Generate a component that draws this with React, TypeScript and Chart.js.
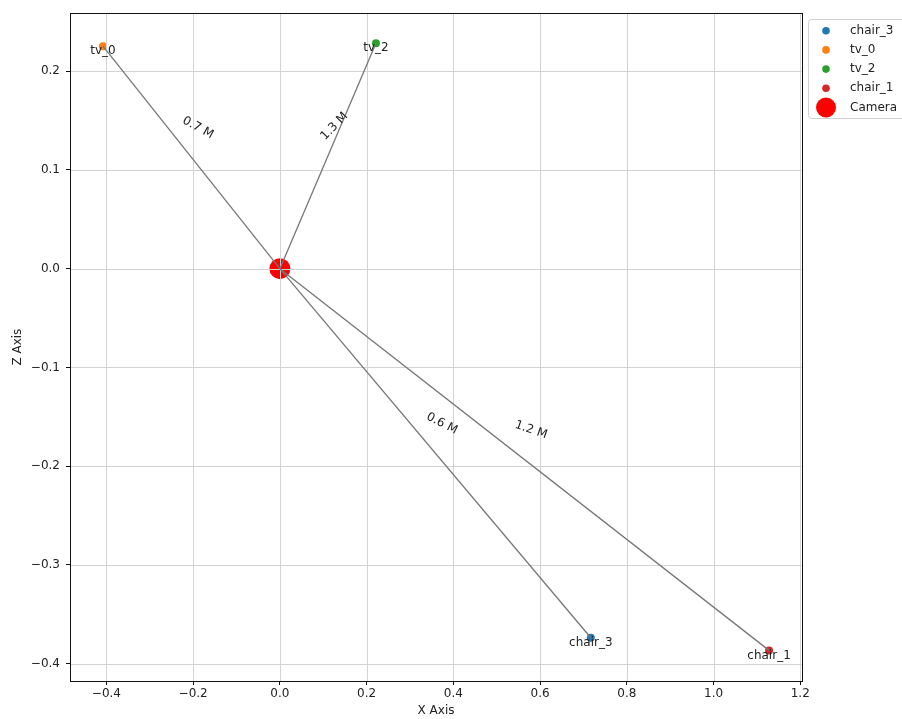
import React, { useEffect, useRef } from "react";
import { Chart, registerables } from "chart.js";

Chart.register(...registerables);

// ---- data ----
const objectNames = ["chair_3", "tv_0", "tv_2", "chair_1"];
const objectX = [0.717, -0.408, 0.2215, 1.128];
const objectZ = [-0.3737, 0.2253, 0.2283, -0.3865];
const distanceLabels = ["0.6 M", "0.7 M", "1.3 M", "1.2 M"];
const cameraLabel = "Camera";
const cameraX = 0;
const cameraZ = 0;
const xTicks = [-0.4, -0.2, 0.0, 0.2, 0.4, 0.6, 0.8, 1.0, 1.2];
const zTicks = [-0.4, -0.3, -0.2, -0.1, 0.0, 0.1, 0.2];
const xRange = [-0.484, 1.204];
const zRange = [-0.4175, 0.2587];
const xTitle = "X Axis";
const zTitle = "Z Axis";

// ---- styles ----
const seriesColors = ["#1f77b4", "#ff7f0e", "#2ca02c", "#d62728"];
const cameraColor = "#ff0000";
const FONT = "'DejaVu Sans', sans-serif";
const TEXT = "#222222";
const GRID = "#d3d3d3";

const fmt = (v: number) => {
  const s = Math.abs(v).toFixed(1);
  return v < -1e-9 ? "\u2212" + s : s;
};

const lineCount = objectNames.length;

const overlayPlugin = {
  id: "overlay",
  afterDatasetDraw(chart: any, args: any) {
    // index lineCount is the last scatter dataset drawn (before lines)
    if (args.index !== lineCount) return;
    const { ctx, chartArea: a, scales } = chart;
    ctx.save();
    ctx.strokeStyle = GRID;
    ctx.lineWidth = 1;
    ctx.beginPath();
    xTicks.forEach((v) => {
      const p = Math.round(scales.x.getPixelForValue(v)) + 0.5;
      ctx.moveTo(p, a.top);
      ctx.lineTo(p, a.bottom);
    });
    zTicks.forEach((v) => {
      const p = Math.round(scales.y.getPixelForValue(v)) + 0.5;
      ctx.moveTo(a.left, p);
      ctx.lineTo(a.right, p);
    });
    ctx.stroke();
    ctx.restore();
  },
  afterDatasetsDraw(chart: any) {
    const { ctx, chartArea: a, scales } = chart;
    const xs = scales.x;
    const ys = scales.y;
    ctx.save();
    // object labels
    ctx.fillStyle = TEXT;
    ctx.font = `12px ${FONT}`;
    ctx.textAlign = "center";
    ctx.textBaseline = "top";
    objectNames.forEach((n, i) => {
      const px = xs.getPixelForValue(objectX[i]);
      const py = ys.getPixelForValue(objectZ[i]);
      ctx.fillText(n, px, py - 1);
    });
    // distance labels
    ctx.textBaseline = "middle";
    distanceLabels.forEach((d, i) => {
      const mx = (objectX[i] + cameraX) / 2 + 0.015;
      const mz = (objectZ[i] + cameraZ) / 2 + 0.03;
      const px = xs.getPixelForValue(mx);
      const py = ys.getPixelForValue(mz);
      const ang = Math.atan((objectZ[i] - cameraZ) / (objectX[i] - cameraX));
      ctx.save();
      ctx.translate(px, py);
      ctx.rotate(-ang);
      ctx.fillText(d, 0, 0);
      ctx.restore();
    });
    // spines
    ctx.strokeStyle = "#111111";
    ctx.lineWidth = 1;
    ctx.strokeRect(
      Math.round(a.left) + 0.5,
      Math.round(a.top) + 0.5,
      Math.round(a.right) - Math.round(a.left),
      Math.round(a.bottom) - Math.round(a.top)
    );
    // axis titles
    ctx.fillStyle = TEXT;
    ctx.font = `12px ${FONT}`;
    ctx.textAlign = "center";
    ctx.textBaseline = "middle";
    ctx.fillText(xTitle, (a.left + a.right) / 2, 711);
    ctx.save();
    ctx.translate(18, (a.top + a.bottom) / 2);
    ctx.rotate(-Math.PI / 2);
    ctx.fillText(zTitle, 0, 0);
    ctx.restore();
    // legend
    const lx = 808.5;
    const ly = 19.5;
    ctx.beginPath();
    (ctx as any).roundRect
      ? (ctx as any).roundRect(lx, ly, 140, 99, 3)
      : ctx.rect(lx, ly, 140, 99);
    ctx.fillStyle = "rgba(255,255,255,0.85)";
    ctx.fill();
    ctx.strokeStyle = "#d0d0d0";
    ctx.stroke();
    const entries = objectNames
      .map((n, i) => ({ label: n, color: seriesColors[i], r: 3.8 }))
      .concat([{ label: cameraLabel, color: cameraColor, r: 10 }]);
    entries.forEach((e, i) => {
      const cy = 30.7 + i * 19.2;
      ctx.beginPath();
      ctx.arc(826, cy, e.r, 0, Math.PI * 2);
      ctx.fillStyle = e.color;
      ctx.fill();
      ctx.fillStyle = TEXT;
      ctx.textAlign = "left";
      ctx.textBaseline = "middle";
      ctx.fillText(e.label, 850, cy);
    });
    ctx.restore();
  },
};

export default function App() {
  const ref = useRef<HTMLCanvasElement | null>(null);
  useEffect(() => {
    if (!ref.current) return;
    const lineSets = objectNames.map((n, i) => ({
      type: "scatter" as const,
      label: "line_" + n,
      data: [
        { x: cameraX, y: cameraZ },
        { x: objectX[i], y: objectZ[i] },
      ],
      showLine: true,
      borderColor: "#777777",
      borderWidth: 1.3,
      pointRadius: 0,
      order: 0,
    }));
    const objSets = objectNames.map((n, i) => ({
      type: "scatter" as const,
      label: n,
      data: [{ x: objectX[i], y: objectZ[i] }],
      backgroundColor: seriesColors[i],
      borderWidth: 0,
      pointRadius: 4,
      order: 1,
    }));
    const camSet = {
      type: "scatter" as const,
      label: cameraLabel,
      data: [{ x: cameraX, y: cameraZ }],
      backgroundColor: cameraColor,
      borderWidth: 0,
      pointRadius: 10.5,
      order: 1,
    };
    const chart = new Chart(ref.current, {
      type: "scatter",
      data: { datasets: [...lineSets, ...objSets, camSet] as any },
      options: {
        animation: false,
        responsive: false,
        events: [],
        layout: { padding: { top: 12, right: 100, left: 0, bottom: 0 } },
        plugins: { legend: { display: false }, tooltip: { enabled: false } },
        scales: {
          x: {
            type: "linear",
            min: xRange[0],
            max: xRange[1],
            afterBuildTicks: (s: any) => {
              s.ticks = xTicks.map((v) => ({ value: v }));
            },
            afterFit: (s: any) => {
              s.height = 38;
            },
            grid: {
              drawOnChartArea: false,
              drawTicks: true,
              tickLength: 4,
              tickColor: "#111111",
            },
            border: { display: false },
            ticks: {
              padding: 2,
              color: TEXT,
              font: { family: FONT, size: 12 },
              maxRotation: 0,
              autoSkip: false,
              callback: (v: any) => fmt(Number(v)),
            },
          },
          y: {
            type: "linear",
            min: zRange[0],
            max: zRange[1],
            afterBuildTicks: (s: any) => {
              s.ticks = zTicks.map((v) => ({ value: v }));
            },
            afterFit: (s: any) => {
              s.width = 70;
            },
            grid: {
              drawOnChartArea: false,
              drawTicks: true,
              tickLength: 4,
              tickColor: "#111111",
            },
            border: { display: false },
            ticks: {
              padding: 6,
              color: TEXT,
              font: { family: FONT, size: 12 },
              autoSkip: false,
              callback: (v: any) => fmt(Number(v)),
            },
          },
        },
      },
      plugins: [overlayPlugin],
    } as any);
    return () => chart.destroy();
  }, []);
  return (
    <div style={{ position: "fixed", left: 0, top: 0, width: 902, height: 719, background: "#fff" }}>
      <canvas ref={ref} width={902} height={719} style={{ display: "block" }} />
    </div>
  );
}
